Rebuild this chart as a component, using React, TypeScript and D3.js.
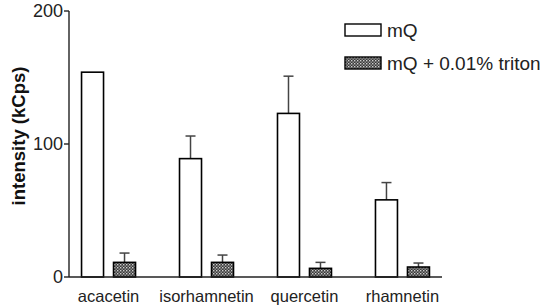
import React from "react";
import * as d3 from "d3";

const categories = ["acacetin", "isorhamnetin", "quercetin", "rhamnetin"];
const seriesNames = ["mQ", "mQ + 0.01% triton"];
const mqValues = [154, 89, 123, 58];
const mqErrors = [0, 17, 28, 13];
const tritonValues = [11, 11, 6.5, 7.5];
const tritonErrors = [7, 5.5, 4.5, 3];
const yTicks = [0, 100, 200];

const W = 550;
const H = 306;

export default function App() {
  const x0 = d3.scaleBand<string>().domain(categories).range([69, 442]).paddingInner(0.449).paddingOuter(0.128);
  const x1 = d3.scaleBand<string>().domain(seriesNames).range([0, x0.bandwidth()]).paddingInner(0.3125).paddingOuter(0);
  const y = d3.scaleLinear().domain([0, 200]).range([277, 11]);

  const rows = categories.flatMap((c, i) => [
    { cat: c, s: seriesNames[0], v: mqValues[i], e: mqErrors[i] },
    { cat: c, s: seriesNames[1], v: tritonValues[i], e: tritonErrors[i] },
  ]);
  const fillFor = (s: string) => (s === seriesNames[0] ? "#fff" : "url(#dots)");
  const font = "Arial, 'Liberation Sans', sans-serif";

  return (
    <svg width={W} height={H} style={{ position: "absolute", left: 0, top: 0 }} fontFamily={font}>
      <defs>
        <pattern id="dots" width="3" height="3" patternUnits="userSpaceOnUse">
          <rect width="3" height="3" fill="#3a3a3a" />
          <rect x="0" y="0" width="1.4" height="1.4" fill="#cfcfcf" />
          <rect x="1.5" y="1.5" width="1.4" height="1.4" fill="#9a9a9a" />
        </pattern>
      </defs>
      {rows.map((r, i) => {
        const bx = (x0(r.cat) as number) + (x1(r.s) as number);
        const bw = x1.bandwidth();
        const cx = bx + bw / 2;
        return (
          <g key={i}>
            {r.e > 0 && (
              <g stroke="#444" strokeWidth={1.5}>
                <line x1={cx} x2={cx} y1={y(r.v)} y2={y(r.v + r.e)} />
                <line x1={cx - 5} x2={cx + 5} y1={y(r.v + r.e)} y2={y(r.v + r.e)} />
              </g>
            )}
            <rect x={bx} y={y(r.v)} width={bw} height={y(0) - y(r.v)} fill={fillFor(r.s)} stroke="#000" strokeWidth={1.6} />
          </g>
        );
      })}
      {/* axes */}
      <line x1={69} x2={69} y1={y(200)} y2={y(0)} stroke="#222" strokeWidth={1.4} />
      <line x1={69} x2={442} y1={y(0)} y2={y(0)} stroke="#222" strokeWidth={1.4} />
      {yTicks.map((t) => (
        <g key={t}>
          <line x1={64} x2={69} y1={y(t)} y2={y(t)} stroke="#222" strokeWidth={1.4} />
          <text x={63} y={y(t)} dy="0.36em" textAnchor="end" fontSize={18} fill="#222">
            {t}
          </text>
        </g>
      ))}
      {categories.map((c) => (
        <text key={c} x={(x0(c) as number) + x0.bandwidth() / 2} y={302} textAnchor="middle" fontSize={16.5} fill="#222">
          {c}
        </text>
      ))}
      <text transform={`translate(25,136) rotate(-90)`} textAnchor="middle" fontSize={18.5} fontWeight="bold" fill="#111">
        intensity (kCps)
      </text>
      {/* legend */}
      {seriesNames.map((s, i) => (
        <g key={s} transform={`translate(345,${30 + i * 33})`}>
          <rect x={0} y={-6} width={36} height={12} fill={fillFor(s)} stroke="#000" strokeWidth={1.4} />
          <text x={42} y={0} dy="0.36em" fontSize={19} fill="#222">
            {s}
          </text>
        </g>
      ))}
    </svg>
  );
}
